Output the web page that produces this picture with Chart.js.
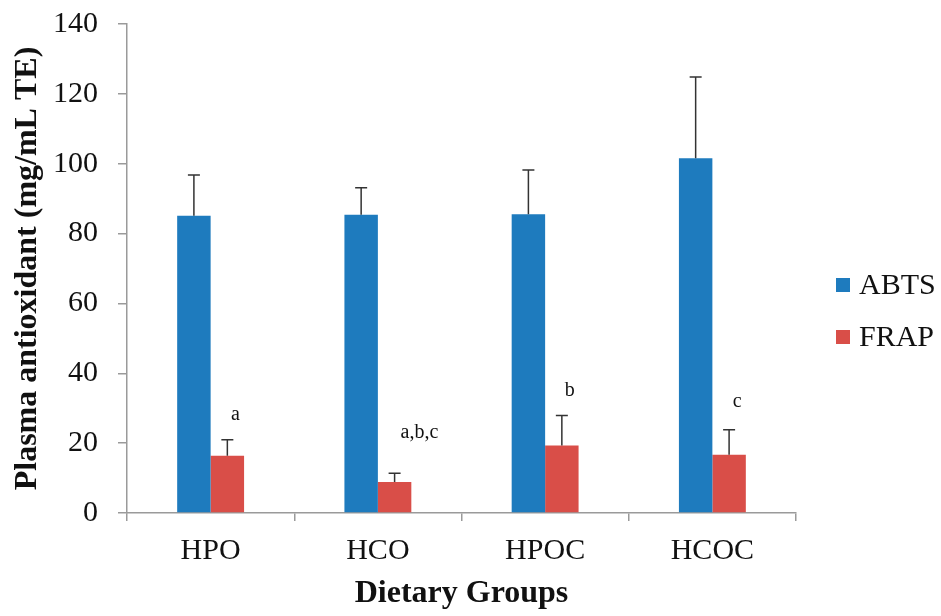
<!DOCTYPE html>
<html>
<head>
<meta charset="utf-8">
<script src="https://cdn.jsdelivr.net/npm/chart.js@4.4.0/dist/chart.umd.min.js"></script>
<style>
html,body{margin:0;padding:0;background:#fff;}
#wrap{width:941px;height:616px;position:relative;}
</style>
</head>
<body>
<div id="wrap"><canvas id="c" width="941" height="616"></canvas></div>
<script>
const categories = ["HPO", "HCO", "HPOC", "HCOC"];
const abtsValues = [85.1, 85.4, 85.5, 101.6];
const abtsErrors = [11.7, 7.7, 12.7, 23.2];
const frapValues = [16.4, 8.9, 19.3, 16.7];
const frapErrors = [4.6, 2.5, 8.6, 7.1];
const frapLetters = ["a", "a,b,c", "b", "c"];
const letterValues = [28.1, 23.0, 35.1, 31.8];
const yTicks = [0, 20, 40, 60, 80, 100, 120, 140];

const serif = "'Liberation Serif', 'Times New Roman', serif";
const axisGray = "#9a9a9a";

const errorBarPlugin = {
  id: "errorBars",
  afterDatasetsDraw(chart) {
    const ctx = chart.ctx;
    const y = chart.scales.y;
    chart.data.datasets.forEach((ds, di) => {
      const meta = chart.getDatasetMeta(di);
      meta.data.forEach((bar, i) => {
        const top = y.getPixelForValue(ds.data[i] + ds.errors[i]);
        const base = y.getPixelForValue(ds.data[i]);
        ctx.save();
        ctx.strokeStyle = "#333333";
        ctx.lineWidth = 1.5;
        ctx.beginPath();
        ctx.moveTo(bar.x, base);
        ctx.lineTo(bar.x, top);
        ctx.moveTo(bar.x - 6, top);
        ctx.lineTo(bar.x + 6, top);
        ctx.stroke();
        ctx.restore();
      });
    });
    const meta = chart.getDatasetMeta(1);
    ctx.save();
    ctx.fillStyle = "#111";
    ctx.font = "20px " + serif;
    ctx.textAlign = "center";
    ctx.textBaseline = "middle";
    meta.data.forEach((bar, i) => {
      const txt = frapLetters[i];
      const w = ctx.measureText(txt).width;
      const x = txt.length > 1 ? bar.x + 6 + w / 2 : bar.x + 8;
      ctx.fillText(txt, x, y.getPixelForValue(letterValues[i]));
    });
    ctx.restore();
  }
};

const legendPlugin = {
  id: "sideLegend",
  afterDraw(chart) {
    const ctx = chart.ctx;
    const area = chart.chartArea;
    const n = chart.data.datasets.length;
    const spacing = 52;
    const cy0 = 311 - (n - 1) * spacing / 2;
    const boxX = area.right + 40;
    ctx.save();
    ctx.font = "30px " + serif;
    ctx.textBaseline = "middle";
    ctx.textAlign = "left";
    chart.data.datasets.forEach((ds, i) => {
      const cy = cy0 + i * spacing;
      ctx.fillStyle = ds.backgroundColor;
      ctx.fillRect(boxX, cy - 7, 14, 14);
      ctx.fillStyle = "#111";
      ctx.fillText(ds.label, boxX + 23, cy + 1);
    });
    ctx.restore();
  }
};

new Chart(document.getElementById("c"), {
  type: "bar",
  data: {
    labels: categories,
    datasets: [
      { label: "ABTS", data: abtsValues, errors: abtsErrors, backgroundColor: "#1e7bbe", borderWidth: 0 },
      { label: "FRAP", data: frapValues, errors: frapErrors, backgroundColor: "#d94e48", borderWidth: 0 }
    ]
  },
  options: {
    responsive: false,
    animation: false,
    devicePixelRatio: 1,
    layout: { padding: { top: 24, left: 0, right: 145, bottom: 0 } },
    datasets: { bar: { categoryPercentage: 0.4, barPercentage: 1.0 } },
    plugins: {
      tooltip: { enabled: false },
      legend: { display: false }
    },
    scales: {
      x: {
        afterFit(scale) { scale.height = 103; },
        grid: { display: true, drawOnChartArea: false, drawTicks: true, tickLength: 8, color: axisGray, lineWidth: 1.5, offset: true },
        border: { display: true, color: axisGray, width: 1.5 },
        ticks: { color: "#111", font: { family: serif, size: 30 }, padding: 12 },
        title: { display: true, text: "Dietary Groups", color: "#111", font: { family: serif, size: 32, weight: "bold" }, padding: { top: 4, bottom: 3 } }
      },
      y: {
        min: 0,
        max: 140,
        afterBuildTicks(scale) { scale.ticks = yTicks.map(v => ({ value: v })); },
        afterFit(scale) { scale.width = 127; scale.paddingTop = 0; scale.paddingBottom = 0; },
        grid: { display: true, drawOnChartArea: false, drawTicks: true, tickLength: 9, color: axisGray, lineWidth: 1.5 },
        border: { display: true, color: axisGray, width: 1.5 },
        ticks: { color: "#111", font: { family: serif, size: 30 }, padding: 20 },
        title: { display: true, text: "Plasma antioxidant (mg/mL TE)", color: "#111", font: { family: serif, size: 32, weight: "bold" }, padding: { top: 9, bottom: 7 } }
      }
    }
  },
  plugins: [errorBarPlugin, legendPlugin]
});
</script>
</body>
</html>
